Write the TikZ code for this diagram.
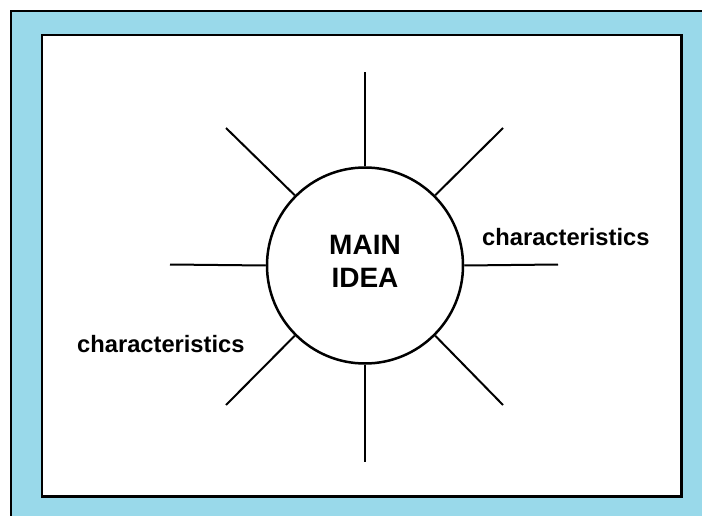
\documentclass[tikz,border=0pt]{standalone}
\usepackage{fontspec}
\setmainfont{Liberation Sans}
\definecolor{framebg}{RGB}{153,217,234}
\begin{document}
\begin{tikzpicture}[x=1pt,y=-1pt,
  spoke/.style={line width=2pt,black},
  lbl/.style={font=\fontsize{23.7}{28}\selectfont\bfseries,inner sep=0pt}]
\useasboundingbox (0,0) rectangle (702,516);
\begin{scope}
\clip (0,0) rectangle (702,516);
\fill[white] (0,0) rectangle (702,516);
\draw[fill=framebg,line width=2.5pt] (11,11) rectangle (760,560);
\end{scope}
\draw[fill=white,line width=2.5pt] (42,35) rectangle (681.5,496.5);
\node[circle,draw,line width=2.5pt,minimum size=196pt,inner sep=0pt] (c) at (365,265.5) {};
\node[inner sep=0pt,align=center,font=\fontsize{28}{33}\selectfont\bfseries] (mi) at (365,261.5) {MAIN\\IDEA};
\coordinate (tE) at (365,72);
\coordinate (trE) at (503,128);
\coordinate (rE) at (558,264.5);
\coordinate (brE) at (503,405);
\coordinate (bE) at (365,462);
\coordinate (blE) at (226,405);
\coordinate (lE) at (170,264.5);
\coordinate (tlE) at (226,128);
\draw[spoke] (c.north) -- (tE);
\draw[spoke] (c.south) -- (bE);
\draw[spoke] (c.east) -- (rE);
\draw[spoke] (c.west) -- (lE);
\draw[spoke] (c.north east) -- (trE);
\draw[spoke] (c.north west) -- (tlE);
\draw[spoke] (c.south east) -- (brE);
\draw[spoke] (c.south west) -- (blE);
\node[lbl,anchor=base west] (cl) at (77,352) {characteristics};
\node[lbl,anchor=base west] (cr) at (482,245) {characteristics};
\end{tikzpicture}
\end{document}
